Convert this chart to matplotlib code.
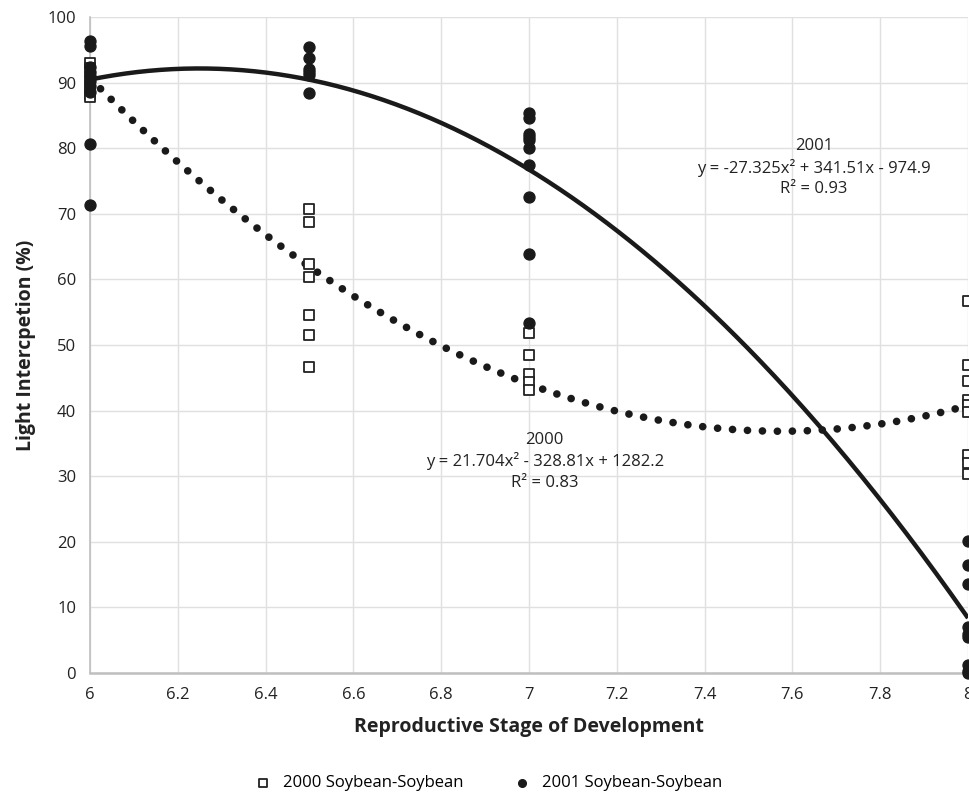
import numpy as np
import matplotlib.pyplot as plt

plt.rcParams['font.family'] = ['Open Sans', 'DejaVu Sans']

# 2000 Soybean-Soybean (open squares)
x2000 = [6]*6 + [6.5]*7 + [7]*5 + [8]*9
y2000 = [93.0, 92.2, 90.5, 89.2, 88.3, 87.8,
         70.7, 68.8, 62.3, 60.4, 54.6, 51.6, 46.7,
         51.9, 48.4, 45.6, 44.4, 43.2,
         56.7, 47.0, 44.5, 41.6, 40.9, 39.8, 33.3, 32.0, 30.4]

# 2001 Soybean-Soybean (filled circles)
x2001 = [6]*10 + [6.5]*6 + [7]*10 + [8]*9
y2001 = [96.3, 95.6, 92.4, 91.6, 91.0, 90.2, 89.5, 88.5, 80.6, 71.4,
         95.4, 93.7, 92.1, 91.6, 91.1, 88.4,
         85.4, 84.6, 82.1, 81.7, 81.3, 80.0, 77.5, 72.5, 63.8, 53.3,
         20.1, 16.4, 13.5, 7.0, 6.0, 5.5, 1.2, 0.3, 0.0]

# trend line coefficients (quadratic) as labelled on the chart
coef2000 = [21.704, -328.81, 1282.2]
coef2001 = [-27.325, 341.51, -974.9]

fig = plt.figure(figsize=(9.69, 7.96), dpi=100)
ax = fig.add_axes([90/969, 1 - 673/796, 878/969, 656/796])

xs = np.linspace(6, 8, 300)
ax.plot(xs, np.polyval(coef2001, xs), color='#1a1a1a', lw=3.2, zorder=3,
        solid_capstyle='butt')
ax.plot(xs, np.polyval(coef2000, xs), color='#1a1a1a', lw=5.5,
        linestyle=(0, (0.01, 1.95)), dash_capstyle='round', zorder=3)

ax.scatter(x2000, y2000, marker='s', s=60, facecolors='white',
           edgecolors='#222222', linewidths=1.3, zorder=4, clip_on=False,
           label='2000 Soybean-Soybean')
ax.scatter(x2001, y2001, marker='o', s=62, color='#1a1a1a', zorder=5,
           clip_on=False, label='2001 Soybean-Soybean')

ax.text(7.649, 77.0, '2001\ny = -27.325x² + 341.51x - 974.9\nR² = 0.93',
        ha='center', va='center', fontsize=12, color='#222222',
        linespacing=1.35, zorder=6)
ax.text(7.036, 32.3, '2000\ny = 21.704x² - 328.81x + 1282.2\nR² = 0.83',
        ha='center', va='center', fontsize=12, color='#222222',
        linespacing=1.35, zorder=6)

ax.set_xlim(6, 8)
ax.set_ylim(0, 100)
ax.set_xticks(np.arange(6, 8.01, 0.2))
ax.set_xticklabels(['6', '6.2', '6.4', '6.6', '6.8', '7', '7.2', '7.4',
                    '7.6', '7.8', '8'])
ax.set_yticks(range(0, 101, 10))
ax.grid(True, color='#e0e0e0', lw=1)
ax.set_axisbelow(True)
for s in ['top', 'right']:
    ax.spines[s].set_visible(False)
ax.spines['left'].set_color('#bfbfbf')
ax.spines['bottom'].set_color('#bfbfbf')
ax.spines['left'].set_linewidth(1.2)
ax.spines['bottom'].set_linewidth(1.8)
ax.tick_params(length=0, labelsize=12, colors='#222222', pad=10)

ax.set_xlabel('Reproductive Stage of Development', fontsize=14,
              fontweight='bold', color='#222222', labelpad=10)
ax.set_ylabel('Light Intercpetion (%)', fontsize=14, fontweight='bold',
              color='#222222', labelpad=8)

fig.legend(loc='center', bbox_to_anchor=(0.5, 1 - 783/796), ncol=2,
           frameon=False, fontsize=12, handletextpad=0.2, columnspacing=2.5,
           markerscale=0.7)

fig.savefig('out.png', dpi=100)
